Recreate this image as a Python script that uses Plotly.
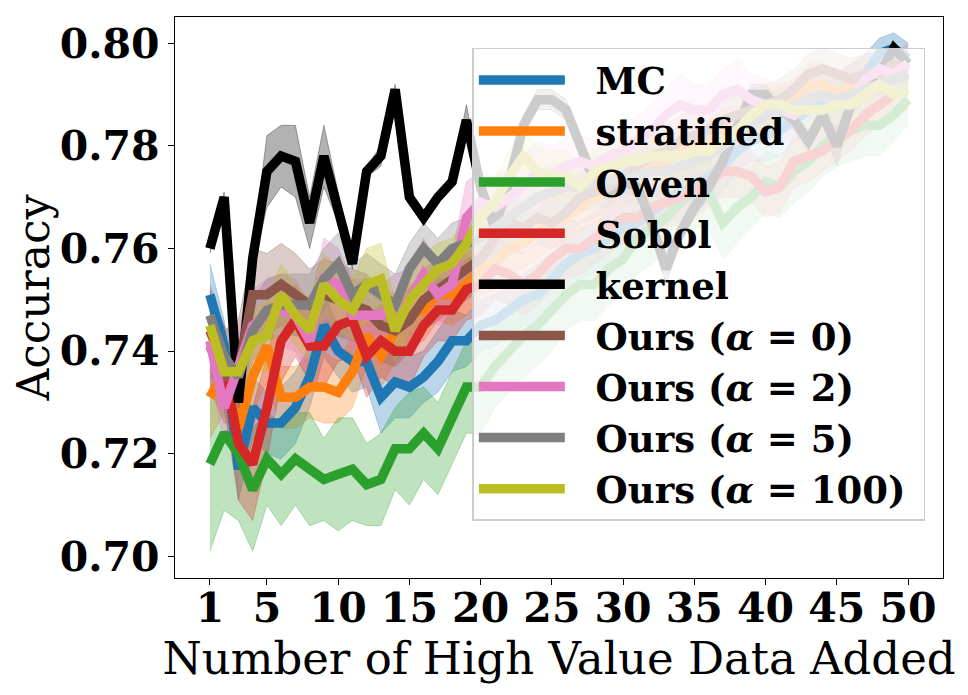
import plotly.graph_objects as go

# number of high value points added
x = list(range(1, 51))

mc = [0.751, 0.741, 0.717, 0.729, 0.726, 0.726, 0.729, 0.735, 0.745, 0.740,
      0.738, 0.738, 0.731, 0.734, 0.733, 0.735, 0.738, 0.742, 0.742, 0.745,
      0.746, 0.748, 0.750, 0.751, 0.754, 0.757, 0.759, 0.760, 0.762, 0.764,
      0.765, 0.767, 0.769, 0.771, 0.772, 0.774, 0.776, 0.779, 0.781, 0.782,
      0.783, 0.785, 0.787, 0.788, 0.790, 0.792, 0.794, 0.798, 0.799, 0.797]
mc_std = [0.006, 0.005, 0.006, 0.006, 0.006, 0.007, 0.007, 0.006, 0.006, 0.005,
          0.006, 0.005, 0.007, 0.007, 0.006, 0.005, 0.006, 0.006, 0.005, 0.005,
          0.005, 0.005, 0.005, 0.006, 0.005, 0.005, 0.005, 0.005, 0.005, 0.005,
          0.005, 0.005, 0.004, 0.005, 0.005, 0.005, 0.005, 0.004, 0.004, 0.005,
          0.005, 0.004, 0.004, 0.004, 0.004, 0.004, 0.004, 0.003, 0.003, 0.003]

stratified = [0.731, 0.736, 0.725, 0.735, 0.741, 0.731, 0.731, 0.733, 0.733, 0.732,
              0.736, 0.743, 0.739, 0.744, 0.747, 0.748, 0.751, 0.751, 0.753, 0.756,
              0.757, 0.760, 0.761, 0.763, 0.765, 0.766, 0.768, 0.770, 0.771, 0.773,
              0.774, 0.776, 0.777, 0.779, 0.780, 0.781, 0.783, 0.784, 0.785, 0.787,
              0.788, 0.789, 0.792, 0.792, 0.790, 0.792, 0.793, 0.794, 0.795, 0.796]
stratified_std = [0.008, 0.008, 0.008, 0.007, 0.007, 0.006, 0.006, 0.006, 0.007, 0.006,
                  0.007, 0.006, 0.006, 0.006, 0.006, 0.006, 0.005, 0.006, 0.006, 0.005,
                  0.005, 0.005, 0.005, 0.005, 0.005, 0.005, 0.005, 0.005, 0.005, 0.005,
                  0.005, 0.005, 0.005, 0.005, 0.004, 0.004, 0.004, 0.004, 0.004, 0.004,
                  0.004, 0.004, 0.004, 0.004, 0.004, 0.004, 0.004, 0.004, 0.003, 0.003]

owen = [0.718, 0.724, 0.720, 0.713, 0.719, 0.716, 0.719, 0.717, 0.715, 0.716,
        0.717, 0.714, 0.715, 0.721, 0.721, 0.724, 0.721, 0.727, 0.733, 0.733,
        0.737, 0.740, 0.743, 0.745, 0.748, 0.751, 0.753, 0.753, 0.756, 0.758,
        0.762, 0.764, 0.766, 0.769, 0.771, 0.771, 0.765, 0.768, 0.770, 0.773,
        0.772, 0.775, 0.777, 0.780, 0.782, 0.783, 0.784, 0.784, 0.786, 0.789]
owen_std = [0.017, 0.015, 0.013, 0.012, 0.009, 0.010, 0.009, 0.011, 0.008, 0.011,
            0.010, 0.008, 0.009, 0.008, 0.011, 0.009, 0.009, 0.009, 0.009, 0.009,
            0.008, 0.008, 0.008, 0.008, 0.008, 0.007, 0.007, 0.007, 0.007, 0.007,
            0.007, 0.007, 0.007, 0.007, 0.007, 0.007, 0.007, 0.007, 0.006, 0.006,
            0.006, 0.006, 0.006, 0.006, 0.006, 0.006, 0.006, 0.006, 0.005, 0.005]

sobol = [0.744, 0.737, 0.722, 0.718, 0.729, 0.742, 0.746, 0.741, 0.741, 0.745,
         0.746, 0.739, 0.742, 0.740, 0.740, 0.745, 0.748, 0.748, 0.752, 0.753,
         0.756, 0.755, 0.753, 0.755, 0.758, 0.760, 0.760, 0.762, 0.764, 0.766,
         0.766, 0.768, 0.769, 0.770, 0.771, 0.773, 0.775, 0.775, 0.774, 0.771,
         0.772, 0.777, 0.778, 0.779, 0.781, 0.783, 0.786, 0.788, 0.790, 0.791]
sobol_std = [0.008, 0.008, 0.011, 0.011, 0.010, 0.008, 0.007, 0.007, 0.008, 0.007,
             0.007, 0.008, 0.007, 0.007, 0.007, 0.006, 0.006, 0.006, 0.006, 0.006,
             0.006, 0.006, 0.006, 0.006, 0.006, 0.006, 0.005, 0.005, 0.005, 0.005,
             0.005, 0.005, 0.005, 0.005, 0.005, 0.005, 0.005, 0.005, 0.005, 0.005,
             0.005, 0.005, 0.005, 0.004, 0.004, 0.004, 0.004, 0.004, 0.004, 0.004]

kernel = [0.760, 0.770, 0.730, 0.758, 0.775, 0.778, 0.777, 0.765, 0.778, 0.768,
          0.757, 0.775, 0.778, 0.791, 0.770, 0.766, 0.770, 0.773, 0.785, 0.772,
          0.764, 0.773, 0.784, 0.789, 0.789, 0.787, 0.780, 0.773, 0.771, 0.773,
          0.772, 0.765, 0.756, 0.763, 0.768, 0.772, 0.777, 0.784, 0.790, 0.790,
          0.787, 0.785, 0.781, 0.786, 0.780, 0.788, 0.792, 0.794, 0.799, 0.796]
kernel_std = [0.001, 0.001, 0.001, 0.002, 0.007, 0.006, 0.007, 0.005, 0.006, 0.003,
              0.001, 0.001, 0.002, 0.001, 0.001, 0.001, 0.001, 0.001, 0.003, 0.002,
              0.002, 0.002, 0.002, 0.002, 0.002, 0.002, 0.002, 0.002, 0.002, 0.002,
              0.002, 0.002, 0.003, 0.002, 0.002, 0.002, 0.002, 0.002, 0.002, 0.002,
              0.002, 0.002, 0.002, 0.002, 0.004, 0.002, 0.002, 0.002, 0.001, 0.001]

ours_0 = [0.741, 0.735, 0.736, 0.751, 0.751, 0.753, 0.751, 0.749, 0.751, 0.750,
          0.749, 0.748, 0.745, 0.744, 0.746, 0.750, 0.752, 0.754, 0.756, 0.758,
          0.762, 0.765, 0.764, 0.766, 0.765, 0.767, 0.770, 0.771, 0.772, 0.774,
          0.776, 0.778, 0.779, 0.781, 0.782, 0.783, 0.785, 0.786, 0.787, 0.788,
          0.789, 0.791, 0.794, 0.795, 0.794, 0.793, 0.794, 0.794, 0.796, 0.795]
ours_0_std = [0.008, 0.009, 0.010, 0.009, 0.008, 0.008, 0.008, 0.007, 0.007, 0.007,
              0.007, 0.007, 0.007, 0.007, 0.006, 0.006, 0.006, 0.006, 0.006, 0.006,
              0.006, 0.006, 0.005, 0.005, 0.005, 0.005, 0.005, 0.005, 0.005, 0.005,
              0.005, 0.005, 0.005, 0.005, 0.005, 0.005, 0.004, 0.004, 0.004, 0.004,
              0.004, 0.004, 0.004, 0.004, 0.004, 0.004, 0.004, 0.004, 0.003, 0.003]

ours_2 = [0.742, 0.729, 0.737, 0.745, 0.747, 0.748, 0.747, 0.742, 0.754, 0.753,
          0.747, 0.747, 0.747, 0.749, 0.750, 0.755, 0.751, 0.753, 0.766, 0.769,
          0.768, 0.770, 0.772, 0.775, 0.774, 0.776, 0.777, 0.776, 0.778, 0.779,
          0.781, 0.783, 0.786, 0.788, 0.787, 0.787, 0.790, 0.791, 0.789, 0.788,
          0.787, 0.786, 0.789, 0.790, 0.788, 0.789, 0.793, 0.795, 0.794, 0.796]
ours_2_std = [0.007, 0.007, 0.008, 0.007, 0.007, 0.007, 0.007, 0.007, 0.008, 0.007,
              0.007, 0.007, 0.006, 0.006, 0.006, 0.007, 0.006, 0.006, 0.007, 0.006,
              0.006, 0.006, 0.006, 0.006, 0.006, 0.006, 0.005, 0.005, 0.005, 0.005,
              0.005, 0.005, 0.005, 0.006, 0.005, 0.005, 0.005, 0.006, 0.005, 0.005,
              0.005, 0.005, 0.005, 0.004, 0.004, 0.004, 0.004, 0.004, 0.004, 0.004]

ours_5 = [0.747, 0.739, 0.735, 0.744, 0.748, 0.749, 0.749, 0.749, 0.754, 0.757,
          0.751, 0.753, 0.751, 0.749, 0.756, 0.760, 0.757, 0.760, 0.761, 0.762,
          0.764, 0.766, 0.768, 0.770, 0.771, 0.772, 0.772, 0.773, 0.773, 0.774,
          0.774, 0.775, 0.775, 0.776, 0.777, 0.778, 0.780, 0.782, 0.784, 0.786,
          0.787, 0.788, 0.789, 0.790, 0.789, 0.790, 0.791, 0.792, 0.793, 0.794]
ours_5_std = [0.006, 0.006, 0.007, 0.006, 0.006, 0.006, 0.006, 0.006, 0.006, 0.006,
              0.006, 0.006, 0.006, 0.006, 0.005, 0.005, 0.005, 0.005, 0.005, 0.005,
              0.005, 0.005, 0.005, 0.005, 0.005, 0.005, 0.005, 0.005, 0.005, 0.005,
              0.005, 0.005, 0.005, 0.005, 0.005, 0.005, 0.004, 0.004, 0.004, 0.004,
              0.004, 0.004, 0.004, 0.004, 0.004, 0.004, 0.004, 0.004, 0.004, 0.004]

ours_100 = [0.745, 0.736, 0.736, 0.742, 0.743, 0.751, 0.747, 0.744, 0.753, 0.750,
            0.748, 0.753, 0.754, 0.744, 0.750, 0.753, 0.756, 0.757, 0.761, 0.766,
            0.769, 0.774, 0.778, 0.775, 0.774, 0.774, 0.772, 0.775, 0.776, 0.777,
            0.777, 0.778, 0.778, 0.778, 0.779, 0.779, 0.781, 0.783, 0.786, 0.788,
            0.788, 0.787, 0.787, 0.787, 0.788, 0.788, 0.790, 0.792, 0.790, 0.791]
ours_100_std = [0.006, 0.006, 0.006, 0.006, 0.007, 0.006, 0.006, 0.006, 0.006, 0.006,
                0.006, 0.007, 0.007, 0.006, 0.006, 0.006, 0.005, 0.005, 0.005, 0.005,
                0.005, 0.005, 0.005, 0.005, 0.005, 0.005, 0.005, 0.005, 0.005, 0.005,
                0.004, 0.004, 0.004, 0.004, 0.004, 0.004, 0.004, 0.004, 0.004, 0.004,
                0.004, 0.004, 0.004, 0.004, 0.004, 0.004, 0.004, 0.004, 0.004, 0.004]

names = ["MC", "stratified", "Owen", "Sobol", "kernel",
         "Ours (<i>α</i> = 0)", "Ours (<i>α</i> = 2)",
         "Ours (<i>α</i> = 5)", "Ours (<i>α</i> = 100)"]
means = [mc, stratified, owen, sobol, kernel, ours_0, ours_2, ours_5, ours_100]
stds = [mc_std, stratified_std, owen_std, sobol_std, kernel_std,
        ours_0_std, ours_2_std, ours_5_std, ours_100_std]
colors = [(31, 119, 180), (255, 127, 14), (44, 160, 44), (214, 39, 40), (0, 0, 0),
          (140, 86, 75), (227, 119, 194), (127, 127, 127), (188, 189, 34)]

fig = go.Figure()

# shaded bands (mean +/- std) first
for m, s, c in zip(means, stds, colors):
    rgba = "rgba(%d,%d,%d,0.3)" % c
    upper = [a + b for a, b in zip(m, s)]
    lower = [a - b for a, b in zip(m, s)]
    fig.add_trace(go.Scatter(x=x, y=upper, mode="lines",
                             line=dict(color=rgba, width=1),
                             showlegend=False, hoverinfo="skip"))
    fig.add_trace(go.Scatter(x=x, y=lower, mode="lines", fill="tonexty",
                             fillcolor=rgba, line=dict(color=rgba, width=1),
                             showlegend=False, hoverinfo="skip"))

# mean curves on top
gap = "\u00a0\u00a0"
for name, m, c in zip(names, means, colors):
    fig.add_trace(go.Scatter(x=x, y=m, mode="lines", name=gap + name + "\u00a0",
                             line=dict(color="rgb(%d,%d,%d)" % c, width=9.5)))

serif = "DejaVu Serif"

# the page body adds ~8px offset, margins compensate for it
fig.update_layout(
    width=968, height=695,
    margin=dict(l=167, r=33, t=9, b=125),
    paper_bgcolor="white", plot_bgcolor="white",
    font=dict(family=serif, color="black"),
    legend=dict(
        x=0.977, y=0.945, xanchor="right", yanchor="top",
        traceorder="normal",
        bgcolor="rgba(255,255,255,0.8)", bordercolor="#cccccc", borderwidth=1.5,
        font=dict(family=serif, size=37, weight="bold", color="black"),
        itemwidth=86,
    ),
    xaxis=dict(
        range=[-1.45, 52.45],
        tickvals=[1, 5, 10, 15, 20, 25, 30, 35, 40, 45, 50],
        tickfont=dict(family=serif, size=41, weight="bold"),
        ticklabelstandoff=-12,
        title=dict(text="Number of High Value Data Added",
                   font=dict(family=serif, size=45), standoff=4),
        showline=True, mirror=True, linecolor="black", linewidth=1.3,
        ticks="outside", ticklen=6, tickwidth=1.3, tickcolor="black",
        showgrid=False, zeroline=False, automargin=False,
    ),
    yaxis=dict(
        range=[0.6958, 0.8051],
        tickvals=[0.70, 0.72, 0.74, 0.76, 0.78, 0.80],
        tickformat=".2f",
        tickfont=dict(family=serif, size=41, weight="bold"),
        title=dict(text="Accuracy", font=dict(family=serif, size=44), standoff=2),
        showline=True, mirror=True, linecolor="black", linewidth=1.3,
        ticks="outside", ticklen=6, tickwidth=1.3, tickcolor="black",
        showgrid=False, zeroline=False, automargin=False,
    ),
)

fig.write_html("out.html")
